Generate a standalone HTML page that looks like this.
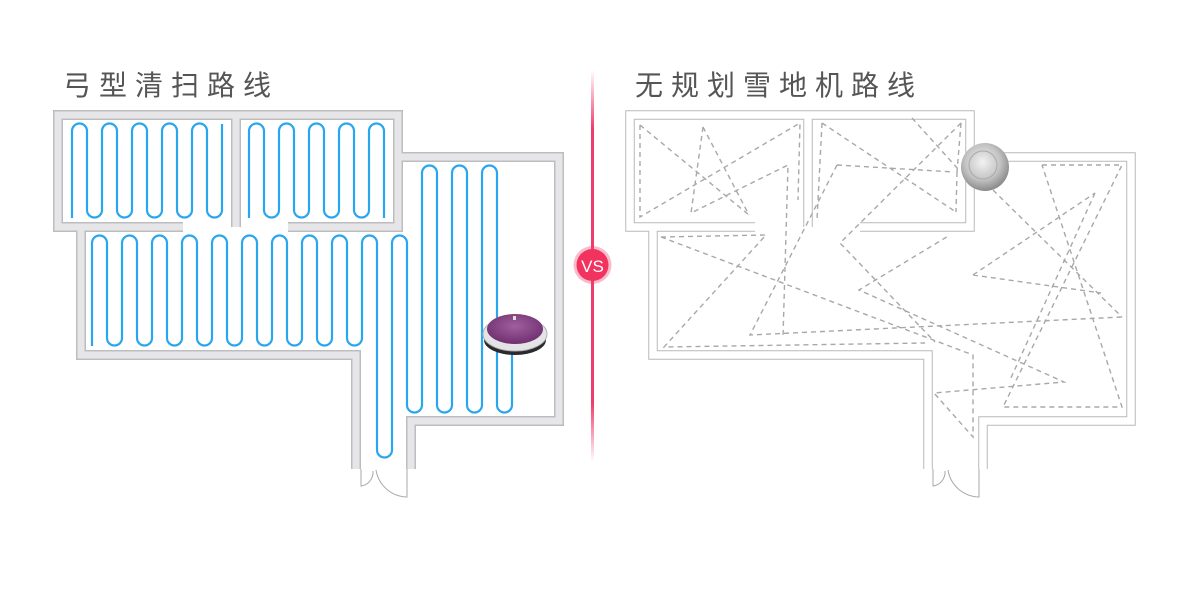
<!DOCTYPE html>
<html><head><meta charset="utf-8"><style>
html,body{margin:0;padding:0;background:#fff;}
body{width:1180px;height:596px;overflow:hidden;position:relative;}
.t{position:absolute;top:64px;font-family:"Liberation Sans","Noto Sans CJK SC",sans-serif;font-size:28px;color:#555;letter-spacing:8px;}
</style></head><body>
<div class="t" style="left:63px">弓型清扫路线</div>
<div class="t" style="left:635px">无规划雪地机路线</div>
<svg width="1180" height="596" style="position:absolute;left:0;top:0">
<defs>
<linearGradient id="lg" x1="0" y1="0" x2="0" y2="1">
<stop offset="0" stop-color="#f03c6a" stop-opacity="0"/>
<stop offset="0.15" stop-color="#f03c6a"/>
<stop offset="0.85" stop-color="#f03c6a"/>
<stop offset="1" stop-color="#f03c6a" stop-opacity="0"/>
</linearGradient>
<radialGradient id="ball" cx="0.45" cy="0.4" r="0.6">
<stop offset="0" stop-color="#f2f2f2"/><stop offset="0.6" stop-color="#c4c4c4"/><stop offset="1" stop-color="#8a8a8a"/>
</radialGradient>
<radialGradient id="pur" cx="0.5" cy="0.4" r="0.6">
<stop offset="0" stop-color="#a060a0"/><stop offset="1" stop-color="#703070"/>
</radialGradient>
<g id="walls" fill="none" stroke-linejoin="miter" stroke-linecap="butt">
<path d="M183,227 H58 V115 H398 V157 H559 V421 H411 V469 M356,469 V355 H81 V227 M236,115 V227 M288,227 H398 V157"/>
</g>
</defs>
<g stroke="#bdbdbf" stroke-width="10"><use href="#walls"/></g>
<g stroke="#e6e6e8" stroke-width="7"><use href="#walls"/></g>
<g fill="none" stroke="#aaa" stroke-width="1">
<path d="M361,469 V486 A14 14 0 0 0 373,471"/>
<path d="M407,469 V497 A32 32 0 0 1 376,470"/>
</g>
<g fill="none" stroke="#2aa6ee" stroke-width="2.2">
<path d="M72,218 V131 A7.5 7.5 0 0 1 87,131 V210 A7.5 7.5 0 0 0 102,210 V131 A7.5 7.5 0 0 1 117,131 V210 A7.5 7.5 0 0 0 132,210 V131 A7.5 7.5 0 0 1 147,131 V210 A7.5 7.5 0 0 0 162,210 V131 A7.5 7.5 0 0 1 177,131 V210 A7.5 7.5 0 0 0 192,210 V131 A7.5 7.5 0 0 1 207,131 V210 A7.5 7.5 0 0 0 222,210 V124"/>
<path d="M249,218 V131 A7.5 7.5 0 0 1 264,131 V210 A7.5 7.5 0 0 0 279,210 V131 A7.5 7.5 0 0 1 294,131 V210 A7.5 7.5 0 0 0 309,210 V131 A7.5 7.5 0 0 1 324,131 V210 A7.5 7.5 0 0 0 339,210 V131 A7.5 7.5 0 0 1 354,131 V210 A7.5 7.5 0 0 0 369,210 V131 A7.5 7.5 0 0 1 384,131 V218"/>
<path d="M92,346 V243 A7.5 7.5 0 0 1 107,243 V338 A7.5 7.5 0 0 0 122,338 V243 A7.5 7.5 0 0 1 137,243 V338 A7.5 7.5 0 0 0 152,338 V243 A7.5 7.5 0 0 1 167,243 V338 A7.5 7.5 0 0 0 182,338 V243 A7.5 7.5 0 0 1 197,243 V338 A7.5 7.5 0 0 0 212,338 V243 A7.5 7.5 0 0 1 227,243 V338 A7.5 7.5 0 0 0 242,338 V243 A7.5 7.5 0 0 1 257,243 V338 A7.5 7.5 0 0 0 272,338 V243 A7.5 7.5 0 0 1 287,243 V338 A7.5 7.5 0 0 0 302,338 V243 A7.5 7.5 0 0 1 317,243 V338 A7.5 7.5 0 0 0 332,338 V243 A7.5 7.5 0 0 1 347,243 V338 A7.5 7.5 0 0 0 362,338 V243 A7.5 7.5 0 0 1 377,243 V450 A7.5 7.5 0 0 0 392,450 V243 A7.5 7.5 0 0 1 407,243 V405 A7.5 7.5 0 0 0 422,405 V173 A7.5 7.5 0 0 1 437,173 V405 A7.5 7.5 0 0 0 452,405 V173 A7.5 7.5 0 0 1 467,173 V405 A7.5 7.5 0 0 0 482,405 V173 A7.5 7.5 0 0 1 497,173 V405 A7.5 7.5 0 0 0 512,405 V330"/>
</g>
<ellipse cx="515" cy="340" rx="31" ry="15" fill="#2a2a2e"/>
<ellipse cx="515" cy="334" rx="32" ry="17" fill="#e4e4e6" stroke="#b0b0b0" stroke-width="1"/>
<ellipse cx="515" cy="329" rx="28" ry="15" fill="url(#pur)"/>
<rect x="513" y="316" width="3" height="4" fill="#ddd"/>
<rect x="591" y="70" width="3" height="392" fill="url(#lg)"/>
<circle cx="592.5" cy="265" r="19" fill="#f03c6a" opacity="0.35"/>
<circle cx="592.5" cy="265" r="16" fill="#f2325f"/>
<text x="592.5" y="272" text-anchor="middle" font-family="Liberation Sans, sans-serif" font-size="17" fill="#fff">VS</text>
<g transform="translate(572,0)">
<g stroke="#b9b9bb" stroke-width="9.5"><use href="#walls"/></g>
<g stroke="#fff" stroke-width="7.5"><use href="#walls"/></g>
<g fill="none" stroke="#aaa" stroke-width="1">
<path d="M361,469 V486 A14 14 0 0 0 373,471"/>
<path d="M407,469 V497 A32 32 0 0 1 376,470"/>
</g>
</g>
<g fill="none" stroke="#a8a8a8" stroke-width="1.4" stroke-dasharray="5,4">
<path d="M640,125 L749,215 M640,125 L640,217 L800,123 L798,200 M703,127 L691,213 L788,165 L783,337 M703,127 L749,215"/>
<path d="M822,123 L956,212 M822,123 L817,220 M912,118 L959,170 M961,123 L840,243 L935,342 M837,165 L954,172 M837,165 L750,335 L1122,317 M957,172 L956,212 M961,123 L957,172"/>
<path d="M661,237 L766,235 L664,347 L925,343 M661,237 L973,355 L973,437 L934,393 L1064,382 L859,290 L950,235"/>
<path d="M973,275 L1095,193 M973,275 L1101,293 M993,190 L1122,317 M1042,165 L1122,165 L1003,407 L1122,407 L1042,165 M1095,193 L1010,380"/>
</g>
<circle cx="985" cy="167" r="24" fill="url(#ball)"/>
<circle cx="983" cy="165" r="14" fill="none" stroke="#aaa" stroke-width="1"/>
</svg>
</body></html>
